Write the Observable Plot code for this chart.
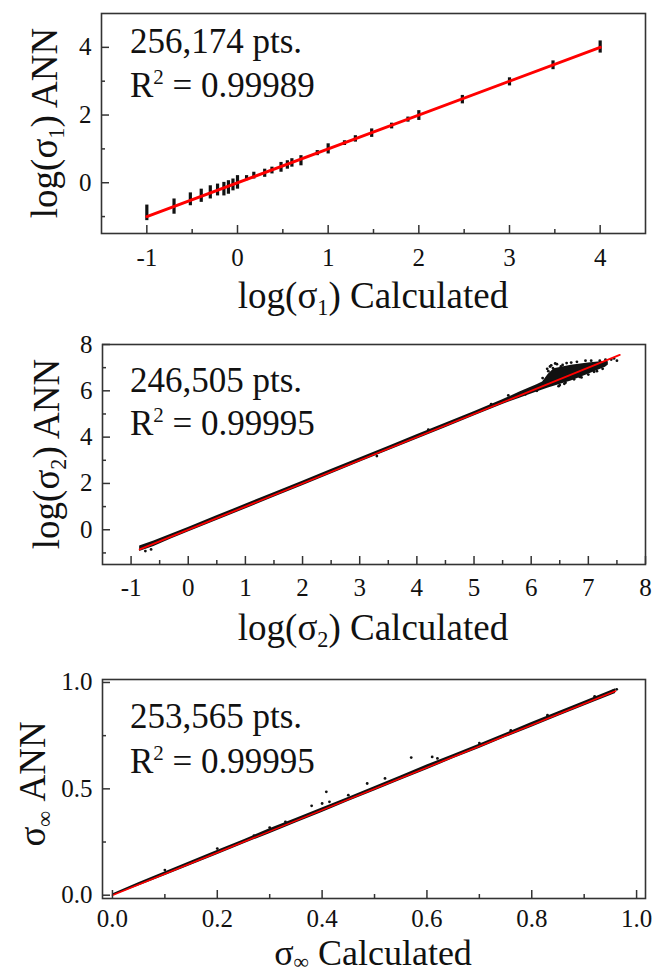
<!DOCTYPE html>
<html><head><meta charset="utf-8">
<script src="https://cdn.jsdelivr.net/npm/d3@7"></script>
<script src="https://cdn.jsdelivr.net/npm/@observablehq/plot@0.6"></script>
<style>
body{margin:0;background:#fff;}
#chart{width:655px;}
#chart svg{display:block;overflow:visible;}
#chart svg text{font-family:"Liberation Serif","Times New Roman",serif;}
</style></head><body><div id="chart"></div>
<script>
// ---------- Panel 1: log(sigma1) ----------
const p1BarX  = [-1, -0.7, -0.52, -0.4, -0.3, -0.22, -0.15, -0.1, -0.05, 0, 0.1, 0.18, 0.3, 0.38, 0.48, 0.55, 0.6, 0.7, 0.88, 1.0, 1.18, 1.3, 1.48, 1.7, 1.88, 2.0, 2.48, 3.0, 3.48, 4.0];
const p1BarLo = [-1.12, -0.93, -0.68, -0.58, -0.48, -0.39, -0.39, -0.34, -0.24, -0.19, 0.06, 0.11, 0.16, 0.26, 0.31, 0.4, 0.46, 0.5, 0.8, 0.85, 1.1, 1.2, 1.34, 1.59, 1.79, 1.84, 2.33, 2.86, 3.34, 3.83];
const p1BarHi = [-0.66, -0.48, -0.3, -0.19, -0.09, -0.04, 0.01, 0.06, 0.11, 0.21, 0.21, 0.31, 0.4, 0.46, 0.6, 0.65, 0.71, 0.8, 0.95, 1.15, 1.24, 1.39, 1.59, 1.76, 1.94, 2.13, 2.58, 3.1, 3.6, 4.19];
const p1FitX = [-1, 4];
const p1FitY = [-1, 4];
const p1XMajor = [-1, 0, 1, 2, 3, 4];
const p1XLabels = ["-1", "0", "1", "2", "3", "4"];
const p1XMinor = [-0.5, 0.5, 1.5, 2.5, 3.5];
const p1YMajor = [0, 2, 4];
const p1YLabels = ["0", "2", "4"];
const p1YMinor = [-1, 1, 3];

// ---------- Panel 2: log(sigma2) ----------
const p2BandX  = [-0.85, -0.6, -0.3, 0, 0.5, 1, 1.5, 2, 2.5, 3, 3.5, 4, 4.5, 5, 5.5, 5.8, 6.1, 6.2, 6.3, 6.4, 6.7, 7.0, 7.3, 7.35];
const p2BandLo = [-0.94, -0.72, -0.4, -0.1, 0.4, 0.9, 1.4, 1.9, 2.41, 2.91, 3.41, 3.91, 4.41, 4.91, 5.41, 5.68, 5.95, 6.03, 6.12, 6.2, 6.42, 6.72, 7.02, 7.12];
const p2BandHi = [-0.7, -0.49, -0.19, 0.1, 0.6, 1.1, 1.6, 2.1, 2.6, 3.1, 3.6, 4.1, 4.6, 5.1, 5.61, 5.95, 6.26, 6.38, 6.72, 6.95, 7.1, 7.2, 7.28, 7.26];
const p2DotX = [6.2, 6.3, 6.35, 6.45, 6.55, 6.7, 6.8, 6.9, 7.05, 7.2, 7.3, 7.4, 7.45, 7.5, 6.5, 6.6, 6.75, 7.0, 7.15, 5.9, 6.1, 5.6, 6.28, -0.75, -0.65, 6.42, 6.62, 6.85, 7.1, 5.3, 4.2, 3.3, 6.33, 6.38, 6.52, 6.95, 7.25, 6.48, 6.58, 6.88];
const p2DotY = [6.55, 6.85, 7.1, 7.15, 7.12, 7.22, 7.25, 7.1, 7.3, 7.3, 7.35, 7.35, 7.4, 7.3, 6.25, 6.35, 6.5, 6.7, 6.85, 5.85, 6.0, 5.8, 6.95, -0.92, -0.85, 7.18, 7.2, 6.6, 6.82, 5.42, 4.32, 3.18, 7.05, 6.98, 7.05, 7.3, 6.95, 6.2, 6.3, 6.58];
const p2FitX = [-0.85, 7.55];
const p2FitY = [-0.85, 7.55];
const p2XMajor = [-1, 0, 1, 2, 3, 4, 5, 6, 7, 8];
const p2XLabels = ["-1", "0", "1", "2", "3", "4", "5", "6", "7", "8"];
const p2XMinor = [-0.5, 0.5, 1.5, 2.5, 3.5, 4.5, 5.5, 6.5, 7.5];
const p2YMajor = [0, 2, 4, 6, 8];
const p2YLabels = ["0", "2", "4", "6", "8"];
const p2YMinor = [-1, 1, 3, 5, 7];

// ---------- Panel 3: sigma_inf ----------
const p3BandX  = [0, 0.05, 0.1, 0.15, 0.2, 0.25, 0.3, 0.35, 0.4, 0.45, 0.5, 0.55, 0.6, 0.65, 0.7, 0.75, 0.8, 0.85, 0.9, 0.96];
const p3BandLo = [-0.004, 0.043, 0.091, 0.141, 0.19, 0.241, 0.289, 0.34, 0.389, 0.44, 0.49, 0.54, 0.59, 0.641, 0.69, 0.741, 0.789, 0.84, 0.889, 0.948];
const p3BandHi = [0.006, 0.058, 0.109, 0.16, 0.21, 0.259, 0.312, 0.361, 0.41, 0.459, 0.51, 0.56, 0.612, 0.66, 0.71, 0.76, 0.812, 0.861, 0.91, 0.97];
const p3DotX = [0.1, 0.2, 0.27, 0.3, 0.33, 0.38, 0.4, 0.408, 0.414, 0.45, 0.486, 0.52, 0.57, 0.61, 0.62, 0.7, 0.76, 0.83, 0.92, 0.962, 0.955];
const p3DotY = [0.118, 0.219, 0.28, 0.318, 0.345, 0.42, 0.431, 0.486, 0.439, 0.47, 0.525, 0.549, 0.647, 0.65, 0.643, 0.715, 0.775, 0.846, 0.935, 0.968, 0.96];
const p3FitX = [0, 0.96];
const p3FitY = [0, 0.96];
const p3XMajor = [0, 0.2, 0.4, 0.6, 0.8, 1.0];
const p3XLabels = ["0.0", "0.2", "0.4", "0.6", "0.8", "1.0"];
const p3XMinor = [0.1, 0.3, 0.5, 0.7, 0.9];
const p3YMajor = [0, 0.5, 1.0];
const p3YLabels = ["0.0", "0.5", "1.0"];
const p3YMinor = [0.25, 0.75];

// ---------- annotation texts ----------
const ptsLabels = ["256,174 pts.", "246,505 pts.", "253,565 pts."];
const r2Labels = ["0.99989", "0.99995", "0.99995"];

const FONT = "'Liberation Serif', 'Times New Roman', serif";
const INK = "#111";

function panel(cfg) {
  const W = 655;
  const pw = W - cfg.ml - cfg.mr, ph = cfg.H - cfg.mt - cfg.mb;
  const lab = (vals, labels) => d => labels[vals.indexOf(d)];
  const svg = Plot.plot({
    width: W, height: cfg.H,
    marginTop: cfg.mt, marginBottom: cfg.mb, marginLeft: cfg.ml, marginRight: cfg.mr,
    x: {domain: cfg.xDomain}, y: {domain: cfg.yDomain},
    style: {fontFamily: FONT, fontSize: cfg.tickFont + "px", background: "white", color: INK, overflow: "visible"},
    marks: [
      ...cfg.marks,
      Plot.tickX(cfg.xMajor, {x: d => d, insetTop: ph - 8, stroke: "#333", strokeWidth: 1.5}),
      Plot.tickX(cfg.xMinor, {x: d => d, insetTop: ph - 4, stroke: "#333", strokeWidth: 1.5}),
      Plot.tickY(cfg.yMajor, {y: d => d, insetRight: pw - 8, stroke: "#333", strokeWidth: 1.5}),
      Plot.tickY(cfg.yMinor, {y: d => d, insetRight: pw - 4, stroke: "#333", strokeWidth: 1.5}),
      Plot.axisX(cfg.xMajor, {tickSize: 0, tickPadding: cfg.xPad, tickFormat: lab(cfg.xMajor, cfg.xLabels), fontSize: cfg.tickFont, label: null, fill: INK}),
      Plot.axisY(cfg.yMajor, {tickSize: 0, tickPadding: 10, tickFormat: lab(cfg.yMajor, cfg.yLabels), fontSize: cfg.tickFont, label: null, fill: INK}),
      Plot.frame({stroke: "#333", strokeWidth: 1.6})
    ]
  });
  d3.select(svg).selectAll("g[aria-label$='tick label']").attr("font-size", cfg.tickFont).style("font-size", cfg.tickFont + "px");
  d3.select(svg).selectAll("text").style("font-size", cfg.tickFont + "px").style("font-family", FONT);
  return svg;
}

function addText(svg, {x, y, rotate = 0, anchor = "start", size, parts, subShift = 0.2}) {
  const t = d3.select(svg).append("text")
    .attr("transform", `translate(${x},${y}) rotate(${rotate})`)
    .attr("text-anchor", anchor)
    .style("font-family", FONT)
    .style("font-size", size + "px")
    .attr("fill", INK);
  for (const p of parts) {
    const s = t.append("tspan").text(p.t);
    if (p.sub) s.style("font-size", (size * 0.6) + "px").attr("dy", size * subShift);
    if (p.sup) s.style("font-size", (size * 0.6) + "px").attr("dy", -size * 0.38);
    if (p.back) s.attr("dy", p.back * size);
  }
}

const NOTE = 35, TITLE = 37, TICK = 25;
const chart = document.getElementById("chart");

// Panel 1
const s1 = panel({
  H: 320, mt: 13, mb: 87, ml: 101, mr: 10,
  xDomain: [-1.5, 4.5], yDomain: [-1.5, 5],
  xMajor: p1XMajor, xLabels: p1XLabels, xMinor: p1XMinor,
  yMajor: p1YMajor, yLabels: p1YLabels, yMinor: p1YMinor,
  tickFont: TICK, xPad: 15,
  marks: [
    Plot.ruleX(p1BarX, {x: d => d, y1: (d, i) => p1BarLo[i], y2: (d, i) => p1BarHi[i], stroke: INK, strokeWidth: 3.2}),
    Plot.line(p1FitX, {x: d => d, y: (d, i) => p1FitY[i], stroke: "#ff0000", strokeWidth: 3})
  ]
});
addText(s1, {x: 130, y: 53, size: NOTE, parts: [{t: ptsLabels[0]}]});
addText(s1, {x: 130, y: 97, size: NOTE, parts: [{t: "R"}, {t: "2", sup: true}, {t: " = " + r2Labels[0], back: 0.38}]});
addText(s1, {x: 57, y: 123, rotate: -90, anchor: "middle", size: TITLE, parts: [{t: "log(σ"}, {t: "1", sub: true}, {t: ") ANN", back: -0.2}]});
addText(s1, {x: 373, y: 308, anchor: "middle", size: TITLE, parts: [{t: "log(σ"}, {t: "1", sub: true}, {t: ") Calculated", back: -0.2}]});
chart.appendChild(s1);

// Panel 2
const s2 = panel({
  H: 330, mt: 24, mb: 86, ml: 102, mr: 10,
  xDomain: [-1.5, 8], yDomain: [-1.5, 8],
  xMajor: p2XMajor, xLabels: p2XLabels, xMinor: p2XMinor,
  yMajor: p2YMajor, yLabels: p2YLabels, yMinor: p2YMinor,
  tickFont: TICK, xPad: 14,
  marks: [
    Plot.areaY(p2BandX, {x: d => d, y1: (d, i) => p2BandLo[i], y2: (d, i) => p2BandHi[i], fill: INK, curve: "linear"}),
    Plot.dot(p2DotX, {x: d => d, y: (d, i) => p2DotY[i], r: 1.4, fill: INK, stroke: null}),
    Plot.line(p2FitX, {x: d => d, y: (d, i) => p2FitY[i], stroke: "#ff0000", strokeWidth: 1.8})
  ]
});
addText(s2, {x: 130, y: 72, size: NOTE, parts: [{t: ptsLabels[1]}]});
addText(s2, {x: 130, y: 115, size: NOTE, parts: [{t: "R"}, {t: "2", sup: true}, {t: " = " + r2Labels[1], back: 0.38}]});
addText(s2, {x: 59, y: 134, rotate: -90, anchor: "middle", size: TITLE, parts: [{t: "log(σ"}, {t: "2", sub: true}, {t: ") ANN", back: -0.2}]});
addText(s2, {x: 373, y: 320, anchor: "middle", size: TITLE, parts: [{t: "log(σ"}, {t: "2", sub: true}, {t: ") Calculated", back: -0.2}]});
chart.appendChild(s2);

// Panel 3
const s3 = panel({
  H: 325, mt: 29, mb: 77, ml: 102, mr: 10,
  xDomain: [-0.019, 1.017], yDomain: [-0.0155, 1.014],
  xMajor: p3XMajor, xLabels: p3XLabels, xMinor: p3XMinor,
  yMajor: p3YMajor, yLabels: p3YLabels, yMinor: p3YMinor,
  tickFont: TICK, xPad: 11,
  marks: [
    Plot.areaY(p3BandX, {x: d => d, y1: (d, i) => p3BandLo[i], y2: (d, i) => p3BandHi[i], fill: INK, curve: "linear"}),
    Plot.dot(p3DotX, {x: d => d, y: (d, i) => p3DotY[i], r: 1.4, fill: INK, stroke: null}),
    Plot.line(p3FitX, {x: d => d, y: (d, i) => p3FitY[i], stroke: "#ff0000", strokeWidth: 1.6})
  ]
});
addText(s3, {x: 130, y: 78, size: NOTE, parts: [{t: ptsLabels[2]}]});
addText(s3, {x: 130, y: 123, size: NOTE, parts: [{t: "R"}, {t: "2", sup: true}, {t: " = " + r2Labels[2], back: 0.38}]});
addText(s3, {x: 45, y: 134, rotate: -90, anchor: "middle", size: TITLE, parts: [{t: "σ"}, {t: "∞", sub: true}, {t: " ANN", back: -0.2}]});
addText(s3, {x: 373, y: 315, anchor: "middle", size: 36, subShift: 0.12, parts: [{t: "σ"}, {t: "∞", sub: true}, {t: " Calculated", back: -0.12}]});
chart.appendChild(s3);
</script>
</body></html>
